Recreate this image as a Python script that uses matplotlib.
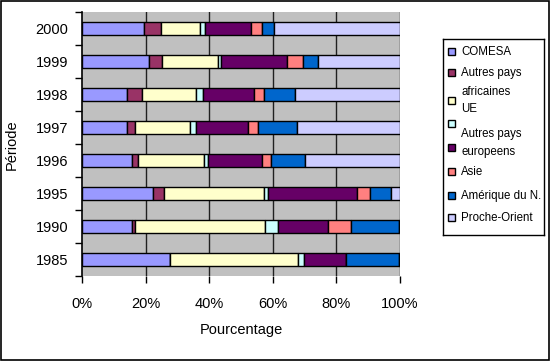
import numpy as np
import matplotlib
matplotlib.use('Agg')
from matplotlib import pyplot as plt
from matplotlib.patches import Rectangle

plt.rcParams['font.family'] = ['Liberation Sans', 'DejaVu Sans']

# categories, bottom to top
years = ['1985', '1990', '1995', '1996', '1997', '1998', '1999', '2000']

# share of each partner (%), same order as years
comesa      = [27.8, 15.6, 22.3, 15.6, 14.2, 14.2, 21.1, 19.6]
autres_afr  = [0.0,  1.1,  3.4,  2.1,  2.5,  4.6,  4.0,  5.2]
ue          = [40.0, 40.8, 31.6, 20.8, 17.4, 16.9, 17.6, 12.2]
autres_eur  = [1.9,  4.2,  1.1,  1.0,  1.8,  2.4,  1.0,  1.7]
europeens   = [13.2, 15.6, 28.1, 17.2, 16.2, 15.9, 20.8, 14.4]
asie        = [0.1,  7.3,  4.0,  2.7,  3.3,  3.3,  5.0,  3.4]
amerique_n  = [16.7, 15.1, 6.7,  10.7, 12.2, 9.7,  4.8,  3.8]
proche_or   = [0.3,  0.3,  2.8,  29.9, 32.4, 33.0, 25.7, 39.7]

series = [comesa, autres_afr, ue, autres_eur, europeens, asie, amerique_n, proche_or]
colors = ['#9999FF', '#993366', '#FFFFCC', '#CCFFFF', '#660066', '#FF8080', '#0066CC', '#CCCCFF']
xticks = [0, 20, 40, 60, 80, 100]
xticklabels = ['0%', '20%', '40%', '60%', '80%', '100%']

data = np.array(series, dtype=float)
data = data / data.sum(axis=0) * 100

fig = plt.figure(figsize=(5.5, 3.61), dpi=100)
fig.patches.append(Rectangle((0.001, 0.002), 0.997, 0.995, transform=fig.transFigure,
                             fill=False, edgecolor='black', lw=1.2))

ax = fig.add_axes((82/550, 1-276/361, 318/550, 264/361))
ax.set_facecolor('#C0C0C0')

y = np.arange(len(years))
left = np.zeros(len(years))
for vals, c in zip(data, colors):
    ax.barh(y, vals, left=left, height=0.4, color=c, edgecolor='black', lw=1.0, zorder=3)
    left += vals

ax.set_xlim(0, 100)
ax.set_ylim(-0.5, len(years)-0.5)
for xv in xticks[1:]:
    ax.axvline(xv, color='#202020', lw=1.0, zorder=1)

ax.set_xticks(xticks)
ax.set_xticklabels(xticklabels, fontsize=10.5)
ax.set_yticks(np.arange(len(years)+1)-0.5)
ax.set_yticklabels([])
ax.set_yticks(y, minor=True)
ax.set_yticklabels(years, minor=True, fontsize=10.5)
ax.tick_params(axis='y', which='minor', length=0, pad=10)
ax.tick_params(axis='y', which='major', length=5, width=1, color='black')
ax.tick_params(axis='x', length=5, width=1, pad=10)
for s in ['top', 'right']:
    ax.spines[s].set_visible(False)
ax.spines['bottom'].set_visible(False)
ax.spines['left'].set_linewidth(1.2)

ax.set_xlabel('Pourcentage', fontsize=10.5, labelpad=9)
fig.text(12/550, 1-145/361, 'Période', rotation=90, ha='center', va='center', fontsize=10.5)

# legend, laid out like the Excel one
lg = fig.add_axes((443/550, 1-235/361, 101/550, 196/361))
lg.set_xlim(0, 101)
lg.set_ylim(196, 0)
lg.set_xticks([])
lg.set_yticks([])
for s in lg.spines.values():
    s.set_linewidth(1.0)
marker_y = [12.7, 33.7, 61, 84, 108.7, 132.7, 157, 179]
for my, c in zip(marker_y, colors):
    lg.add_patch(Rectangle((5, my-3.5), 7, 7, facecolor=c, edgecolor='black', lw=1.0))
legend_lines = ['COMESA', 'Autres pays', 'africaines', 'UE', 'Autres pays',
                'europeens', 'Asie', 'Amérique du N.', 'Proche-Orient']
line_y = [12.7, 33.7, 52.7, 70, 95, 113, 132.7, 157, 179]
for ty, t in zip(line_y, legend_lines):
    lg.text(18, ty, t, fontsize=8.3, va='center', ha='left')

plt.savefig('out.png', dpi=100)
